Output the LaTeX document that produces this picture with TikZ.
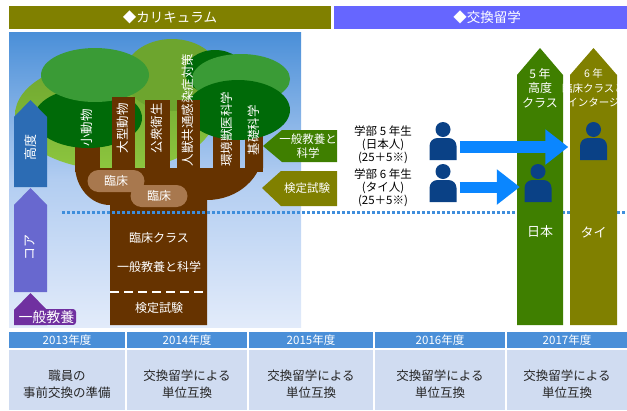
\documentclass[tikz,border=0pt]{standalone}
\usepackage{fontspec}
\setmainfont{Noto Sans CJK JP}
\usetikzlibrary{arrows.meta}

\definecolor{hdrolive}{HTML}{808000}
\definecolor{hdrblue}{HTML}{6666FF}
\definecolor{skytop}{HTML}{4A8FD8}
\definecolor{skymid}{HTML}{B2CDF1}
\definecolor{skybot}{HTML}{E2EBFA}
\definecolor{leafmid}{HTML}{3A9B36}
\definecolor{leafdark}{HTML}{006A08}
\definecolor{leafyel}{HTML}{6DA52E}
\definecolor{leaflight}{HTML}{8DC63F}
\definecolor{bark}{HTML}{663300}
\definecolor{barklight}{HTML}{A8784E}
\definecolor{dotblue}{HTML}{3F8EDC}
\definecolor{highblue}{HTML}{2C6CB4}
\definecolor{corepurple}{HTML}{6868CF}
\definecolor{basepurple}{HTML}{7030A0}
\definecolor{jpgreen}{HTML}{3F7F00}
\definecolor{studentblue}{HTML}{0A4186}
\definecolor{flowblue}{HTML}{0A86FF}
\definecolor{yearblue}{HTML}{4A8FD8}
\definecolor{yearbody}{HTML}{D0DCF1}

\begin{document}
\begin{tikzpicture}[x=1pt, y=-1pt,
    wtext/.style={text=white, inner sep=0pt, align=center},
    branch/.style={wtext, rotate=90, font=\fontsize{12.5}{13}\selectfont},
    pill/.style={wtext, fill=barklight, rounded corners=11pt, minimum width=57pt,
        minimum height=22pt, font=\fontsize{12}{13}\selectfont},
    student/.style={minimum width=27pt, minimum height=38pt, inner sep=0pt,
        path picture={
            \fill[studentblue] ([yshift=-7.5pt]path picture bounding box.north) circle[radius=7.5pt];
            \fill[studentblue] (path picture bounding box.south west)
                [rounded corners=8pt] -- ([yshift=22pt]path picture bounding box.south west)
                -- ([yshift=22pt]path picture bounding box.south east)
                [sharp corners] -- (path picture bounding box.south east) -- cycle;
        }},
    flow/.style={flowblue, line width=12pt, -{Triangle[length=23pt,width=34pt]}}]
    \useasboundingbox (0,0) rectangle (627,410);

    % headers
    \fill[hdrolive] (9,6) rectangle (331,29);
    \node[wtext, font=\fontsize{13.5}{14}\selectfont] (hcur) at (170,17.5) {◆カリキュラム};
    \fill[hdrblue] (334,6) rectangle (627,29);
    \node[wtext, font=\fontsize{13.5}{14}\selectfont] (hex) at (487,17.5) {◆交換留学};

    % sky behind the tree
    \shade[top color=skytop, bottom color=skybot, middle color=skymid] (9,32) rectangle (301,327);

    % canopy, back layer
    \shade[top color=leafyel, bottom color=leaflight] (115,115) ellipse[x radius=100pt, y radius=55pt];
    \fill[leafyel] (172,75) ellipse[x radius=48pt, y radius=36pt];
    \fill[leafdark] (215,72) ellipse[x radius=30pt, y radius=22pt];

    % trunk and the branches behind the leaves
    \fill[bark] (75,165) arc[start angle=180, end angle=270, x radius=35pt, y radius=40pt]
        -- (110,325) -- (207,325) -- (207,200)
        arc[start angle=270, end angle=360, x radius=56pt, y radius=50pt]
        -- (263,168) -- (75,168) -- cycle;
    \fill[bark] (75,130) rectangle (100,172);
    \fill[bark] (213,125) rectangle (240,172);
    \fill[bark] (245,125) rectangle (263,172);

    % canopy, front layer
    \fill[leafdark] (88,118) ellipse[x radius=54pt, y radius=30pt];
    \fill[leafmid] (95,75) ellipse[x radius=54pt, y radius=27pt];
    \fill[leafmid] (241,79) ellipse[x radius=49pt, y radius=25pt];
    \fill[leafdark] (238,110) ellipse[x radius=52pt, y radius=30pt];

    % branches in front
    \fill[bark] (112,97) rectangle (135,172);
    \fill[bark] (145,100) rectangle (170,172);
    \fill[bark] (177,100) rectangle (200,172);

    \node[branch] (b1) at (87,128) {小動物};
    \node[branch] (b2) at (123,128) {大型動物};
    \node[branch] (b3) at (157,128) {公衆衛生};
    \node[branch] (b4) at (188,110) {人獣共通感染症対策};
    \node[branch] (b5) at (227,129) {環境獣医科学};
    \node[branch] (b6) at (254,130) {基礎科学};

    \node[pill] (clin1) at (116,181) {臨床};
    \node[pill] (clin2) at (159,196) {臨床};

    \node[wtext, font=\fontsize{12}{13}\selectfont] (tk1) at (159,238) {臨床クラス};
    \node[wtext, font=\fontsize{12}{13}\selectfont] (tk2) at (159,267) {一般教養と科学};
    \draw[white, line width=2pt, dash pattern=on 9pt off 5pt] (110,292) -- (207,292);
    \node[wtext, font=\fontsize{12}{13}\selectfont] (tk3) at (159,308) {検定試験};

    % level arrows on the left
    \fill[highblue] (14,187) -- (14,117) -- (30.5,100) -- (47,117) -- (47,187) -- cycle;
    \node[branch, font=\fontsize{13}{14}\selectfont] (lv1) at (30.5,147) {高度};
    \fill[corepurple] (14,292) -- (14,205) -- (30.5,188) -- (47,205) -- (47,292) -- cycle;
    \node[branch, font=\fontsize{13}{14}\selectfont] (lv2) at (30.5,247) {コア};
    \fill[basepurple] (14,325) -- (14,310) -- (30.5,293) -- (47,310) -- (47,325) -- cycle;
    \node[wtext, fill=basepurple, rounded corners=3pt, inner sep=1.5pt,
        font=\fontsize{14}{15}\selectfont] (lv3) at (46.5,317) {一般教養};

    % dotted boundary
    \draw[dotblue, line width=3pt, dash pattern=on 3pt off 2pt] (62,212) -- (627,212);

    % entry conditions
    \fill[jpgreen] (263,146) -- (282,130) -- (337,130) -- (337,162) -- (282,162) -- cycle;
    \node[wtext, font=\fontsize{11.5}{14}\selectfont] (req1) at (308,146) {一般教養と\\科学};
    \fill[hdrolive] (262,188) -- (281,171) -- (337,171) -- (337,206) -- (281,206) -- cycle;
    \node[wtext, font=\fontsize{11.5}{13}\selectfont] (req2) at (307,188) {検定試験};

    % students
    \node[align=center, inner sep=0pt, font=\fontsize{11.5}{13}\selectfont] (grp5) at (383,145)
        {学部 5 年生\\(日本人)\\(25＋5※)};
    \node[align=center, inner sep=0pt, font=\fontsize{11.5}{13}\selectfont] (grp6) at (383,188)
        {学部 6 年生\\(タイ人)\\(25＋5※)};

    % exchange columns
    \fill[jpgreen] (517,325) -- (517,75) -- (540,48) -- (563,75) -- (563,325) -- cycle;
    \fill[hdrolive] (570,325) -- (570,75) -- (593.5,48) -- (617,75) -- (617,325) -- cycle;
    \node[wtext, font=\fontsize{12}{14.5}\selectfont] (c5) at (540,88) {5 年\\高度\\クラス};
    \node[wtext, font=\fontsize{10.5}{14.5}\selectfont] (c6) at (593.5,88) {6 年\\臨床クラスと\\インタージ};
    \node[wtext, font=\fontsize{13}{14}\selectfont] (jp) at (540,232) {日本};
    \node[wtext, font=\fontsize{13}{14}\selectfont] (th) at (593.5,232) {タイ};

    \node[student] (p1) at (443,141) {};
    \node[student] (p2) at (443,183) {};
    \node[student] (p3) at (538,183) {};
    \node[student] (p4) at (593.5,141) {};

    \draw[flow, shorten <=3pt, shorten >=11.5pt] ([yshift=-6pt]p1.east) -- ([yshift=-6pt]p4.west);
    \draw[flow, line width=11pt, shorten <=3pt, shorten >=4.5pt] ([yshift=-4pt]p2.east) -- ([yshift=-4pt]p3.west);

    % yearly plan
    \foreach \xa/\xb/\yr/\txt in {9/125/2013/{職員の\\事前交換の準備},
            127/247/2014/{交換留学による\\単位互換},
            249/373/2015/{交換留学による\\単位互換},
            375/505/2016/{交換留学による\\単位互換},
            507/627/2017/{交換留学による\\単位互換}} {
        \fill[yearblue] (\xa,332) rectangle (\xb,348);
        \fill[yearbody] (\xa,350) rectangle (\xb,410);
        \node[wtext, font=\fontsize{11.5}{12}\selectfont] (yr\yr) at ({(\xa+\xb)/2},340) {\yr 年度};
        \node[align=center, inner sep=0pt, text=black!85, font=\fontsize{12.5}{17}\selectfont]
            (plan\yr) at ({(\xa+\xb)/2},384.5) {\txt};
    }
\end{tikzpicture}
\end{document}
